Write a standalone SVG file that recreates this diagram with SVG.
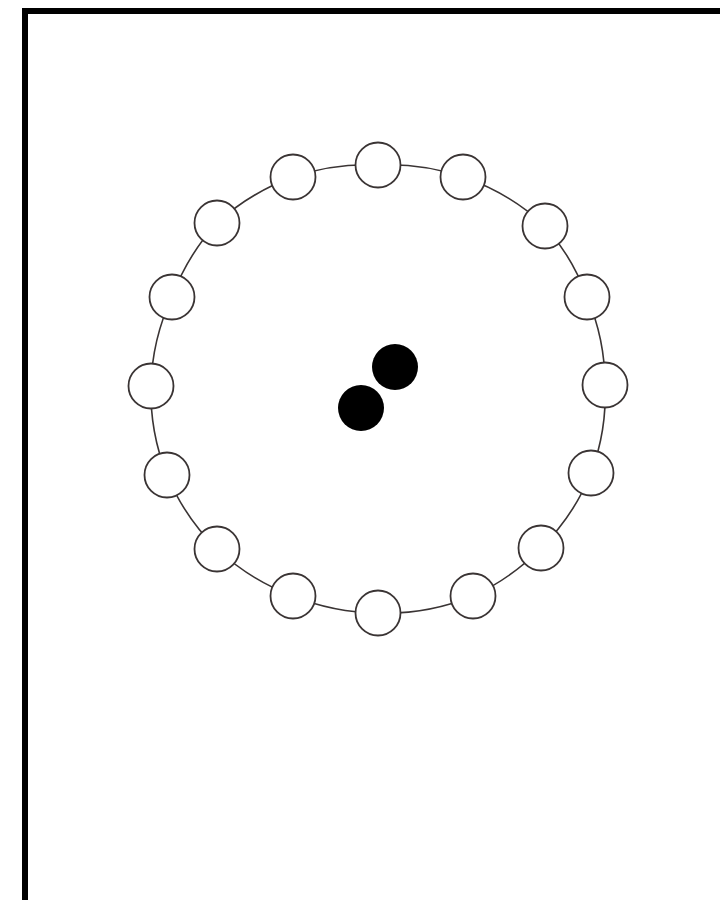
<svg xmlns="http://www.w3.org/2000/svg" width="720" height="900" viewBox="0 0 720 900">
<style>
.edge{fill:none;stroke:#3a3434;stroke-width:1.6}
.node{fill:#fff;stroke:#3a3434;stroke-width:1.8}
.dot{fill:#000}
.frame{fill:none;stroke:#000;stroke-width:6}
</style>
<rect width="720" height="900" fill="#fff"/>
<path class="frame" d="M25,900 V11 H720"/>
<g id="connectors">
<path class="edge" d="M378,165 A227,224 0 0 1 463,177"/>
<path class="edge" d="M463,177 A227,224 0 0 1 545,226"/>
<path class="edge" d="M545,226 A227,224 0 0 1 587,297"/>
<path class="edge" d="M587,297 A227,224 0 0 1 605,385"/>
<path class="edge" d="M605,385 A227,224 0 0 1 591,473"/>
<path class="edge" d="M591,473 A227,224 0 0 1 541,548"/>
<path class="edge" d="M541,548 A227,224 0 0 1 473,596"/>
<path class="edge" d="M473,596 A227,224 0 0 1 378,613"/>
<path class="edge" d="M378,613 A227,224 0 0 1 293,596"/>
<path class="edge" d="M293,596 A227,224 0 0 1 217,549"/>
<path class="edge" d="M217,549 A227,224 0 0 1 167,475"/>
<path class="edge" d="M167,475 A227,224 0 0 1 151,386"/>
<path class="edge" d="M151,386 A227,224 0 0 1 172,297"/>
<path class="edge" d="M172,297 A227,224 0 0 1 217,223"/>
<path class="edge" d="M217,223 A227,224 0 0 1 293,177"/>
<path class="edge" d="M293,177 A227,224 0 0 1 378,165"/>
</g>
<g id="n1"><circle class="node" cx="378" cy="165" r="22.5"/></g>
<g id="n2"><circle class="node" cx="463" cy="177" r="22.5"/></g>
<g id="n3"><circle class="node" cx="545" cy="226" r="22.5"/></g>
<g id="n4"><circle class="node" cx="587" cy="297" r="22.5"/></g>
<g id="n5"><circle class="node" cx="605" cy="385" r="22.5"/></g>
<g id="n6"><circle class="node" cx="591" cy="473" r="22.5"/></g>
<g id="n7"><circle class="node" cx="541" cy="548" r="22.5"/></g>
<g id="n8"><circle class="node" cx="473" cy="596" r="22.5"/></g>
<g id="n9"><circle class="node" cx="378" cy="613" r="22.5"/></g>
<g id="n10"><circle class="node" cx="293" cy="596" r="22.5"/></g>
<g id="n11"><circle class="node" cx="217" cy="549" r="22.5"/></g>
<g id="n12"><circle class="node" cx="167" cy="475" r="22.5"/></g>
<g id="n13"><circle class="node" cx="151" cy="386" r="22.5"/></g>
<g id="n14"><circle class="node" cx="172" cy="297" r="22.5"/></g>
<g id="n15"><circle class="node" cx="217" cy="223" r="22.5"/></g>
<g id="n16"><circle class="node" cx="293" cy="177" r="22.5"/></g>
<g id="d1"><circle class="dot" cx="395" cy="367" r="23"/></g>
<g id="d2"><circle class="dot" cx="361" cy="408" r="23"/></g>
</svg>
